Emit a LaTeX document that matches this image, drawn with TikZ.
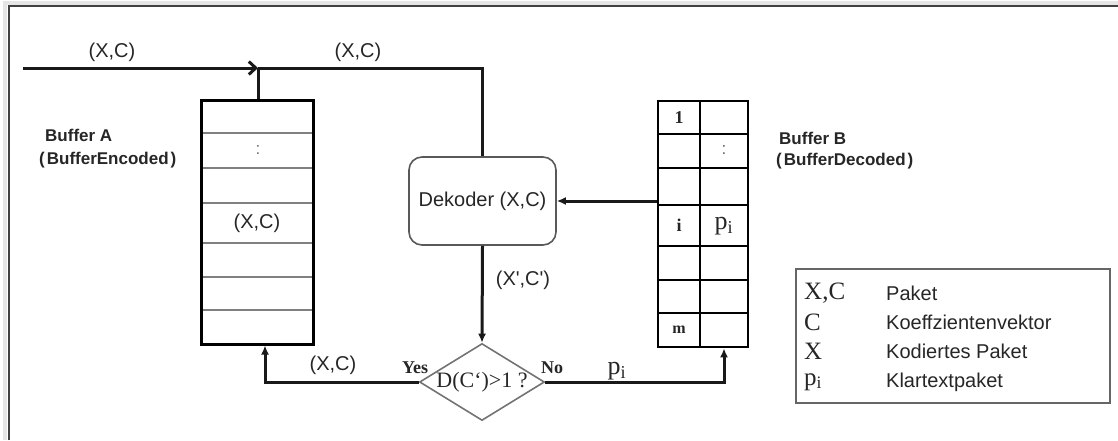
\documentclass[tikz,border=0pt]{standalone}
\usepackage{fontspec}
\setmainfont{Liberation Sans}
\newfontfamily\tnr{Liberation Serif}
\usetikzlibrary{shapes.geometric,arrows.meta,backgrounds}
\newcommand\myfs[1]{\fontsize{#1}{#1}\selectfont}
\begin{document}
\begin{tikzpicture}[x=1pt,y=-1pt,
  conn/.style={line width=3pt, draw=black!90},
  arr/.style={conn, -{Latex[length=9pt,width=8pt]}},
  lbl/.style={font=\myfs{20}, text=black!85, inner sep=0},
  bbox/.style={draw=black, line width=3pt, inner sep=0},
  rowA/.style={draw=black!50, line width=2pt},
  gridB/.style={draw=black, line width=2.8pt},
  blabel/.style={font=\bfseries\myfs{17}, text=black!85, inner sep=0, anchor=west},
  celltxt/.style={font=\tnr\bfseries\myfs{18}, text=black!85, inner sep=0},
  sertxt/.style={font=\tnr\myfs{26}, text=black!85, inner sep=0},
  yesno/.style={font=\tnr\bfseries\myfs{18}, text=black!85, inner sep=0},
  legsym/.style={font=\tnr\myfs{25}, text=black!85, inner sep=0, anchor=west},
  legtxt/.style={font=\myfs{20}, text=black!85, inner sep=0, anchor=west},
]
\useasboundingbox (0,0) rectangle (1118,440);
% frame with light shadow
\draw[black!10, line width=4pt] (5,440) -- (5,3) -- (1118,3);
\draw[black!75, line width=2pt] (9,440) -- (9,6) -- (1118,6);

% Buffer A
\node[bbox, minimum width=112, minimum height=244] (bufA) at (257,222) {};
\begin{scope}[on background layer]
\foreach \y in {133,168,203,243,277,310} \draw[rowA] (201,\y) -- (313,\y);
\end{scope}
\node[font=\myfs{17}, text=black!55, inner sep=0] (dotsA) at (258,150) {:};
\node[lbl] (cellA) at (257,223) {(X,C)};
\node[blabel] (nameA) at (45,135) {Buffer A};
\node[blabel] (nameA2) at (39,160) {(\kern2pt BufferEncoded\kern2pt)};

% Buffer B
\node[gridB, minimum width=90, minimum height=246, inner sep=0] (bufB) at (703,224) {};
\foreach \y in {134,168,205,246,280,313} \draw[gridB] (658,\y) -- (748,\y);
\draw[gridB] (700,101) -- (700,347);
\node[celltxt] (b1) at (679,118) {1};
\node[celltxt] (bi) at (679,225) {i};
\node[celltxt, font=\tnr\bfseries\myfs{16}] (bm) at (679,330) {m};
\node[font=\myfs{17}, text=black!60, inner sep=0] (dotsB) at (724,150) {:};
\node[sertxt] (bp) at (724,226) {p\textsubscript{i}};
\node[blabel] (nameB) at (779,138) {Buffer B};
\node[blabel] (nameB2) at (776,161) {(\kern2pt BufferDecoded\kern2pt)};

% Decoder and decision
\node[draw=black!65, line width=1.6pt, rounded corners=13pt, minimum width=147,
      minimum height=88, font=\myfs{20}, text=black!85] (dec) at (482.5,201) {Dekoder (X,C)};
\node[diamond, draw=black!55, line width=1.6pt, minimum width=125, minimum height=77,
      inner sep=0, font=\tnr\myfs{22}, text=black!85] (dia) at (482,382)
      {\raisebox{-3pt}{\makebox[50pt]{D(C‘)>1 ?}}};

% connectors
\coordinate (in) at (23,68);
\coordinate (jA) at (258,68);
\coordinate (jTop) at (dec.north |- jA);
\coordinate (yesTurn) at (265,382);
\coordinate (noTurn) at (724,382);
\draw[conn, -{Straight Barb[length=7pt,width=13pt]}] (in) -- (jA);
\draw[conn] (jA) -- (jTop) -- (dec.north);
\draw[conn] (jA) -- (jA |- bufA.north);
\draw[arr] (bufB.west |- dec.east) -- (dec.east);
\draw[arr] (dec.south) -- (dia.north);
\draw[arr] (dia.west) -- (yesTurn) -- (yesTurn |- bufA.south);
\draw[arr] (dia.east) -- (noTurn) -- (noTurn |- bufB.south);

% labels
\node[lbl] (l1) at (112,52) {(X,C)};
\node[lbl] (l2) at (358,52) {(X,C)};
\node[lbl] (l3) at (523,280) {(X\textquotesingle,C\textquotesingle)};
\node[lbl] (l4) at (333,365) {(X,C)};
\node[yesno] (yes) at (415,368) {Yes};
\node[yesno] (no) at (552,368) {No};
\node[sertxt] (pno) at (617,371) {p\textsubscript{i}};

% legend
\node[draw=black!60, line width=2pt, minimum width=314, minimum height=134, inner sep=0] (leg) at (953,336) {};
\node[legsym] (s1) at (804,293) {X,C};
\node[legsym] (s2) at (804,322) {C};
\node[legsym] (s3) at (804,351) {X};
\node[legsym] (s4) at (804,382) {p\textsubscript{i}};
\node[legtxt] (t1) at (886,293) {Paket};
\node[legtxt] (t2) at (886,322) {Koeffzientenvektor};
\node[legtxt] (t3) at (886,351) {Kodiertes Paket};
\node[legtxt] (t4) at (886,382) {Klartextpaket};
\end{tikzpicture}
\end{document}
